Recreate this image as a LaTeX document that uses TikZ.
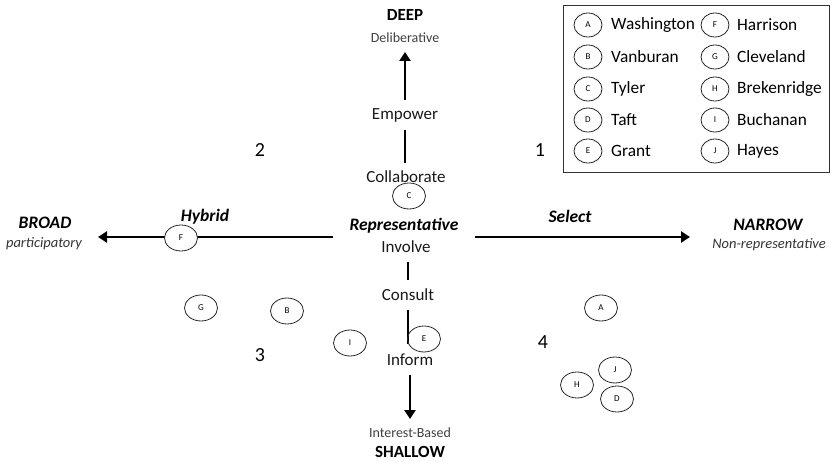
\documentclass[tikz,border=0pt]{standalone}
\usepackage{fontspec}
\setmainfont{Carlito}
\usetikzlibrary{arrows.meta,shapes.geometric}
\begin{document}
\begin{tikzpicture}[x=1pt,y=-1pt,
  lbl/.style={font=\fontsize{17}{19}\selectfont, text=black!90, inner sep=1pt},
  bigb/.style={font=\fontsize{17}{19}\selectfont\bfseries, inner sep=1pt},
  bigbi/.style={font=\fontsize{17.5}{19}\selectfont\bfseries\itshape, inner sep=1pt},
  small/.style={font=\fontsize{14}{16}\selectfont, text=black!75, inner sep=1pt},
  smalli/.style={font=\fontsize{14.5}{16}\selectfont\itshape, text=black!80, inner sep=1pt},
  quad/.style={font=\fontsize{20}{22}\selectfont, inner sep=1pt},
  pt/.style={draw=black!85, line width=0.8pt, ellipse, minimum width=33pt, minimum height=26pt, inner sep=0pt, font=\fontsize{9}{10}\selectfont},
  leg/.style={draw=black!85, line width=0.8pt, ellipse, minimum width=28pt, minimum height=24pt, inner sep=0pt, font=\fontsize{9}{10}\selectfont},
  legtxt/.style={font=\fontsize{17.3}{19}\selectfont, anchor=west, inner sep=0pt},
  axis/.style={line width=2.6pt, black},
  arr/.style={axis, -{Triangle[length=9pt,width=11pt]}}
]
\useasboundingbox (0,0) rectangle (833,462);
% legend box
\node[draw=black!80, line width=1pt, minimum width=266pt, minimum height=167pt, inner sep=0pt] (legend) at (696,89) {};
\foreach \l/\n/\y in {A/Washington/25, B/Vanburan/57, C/Tyler/89, D/Taft/120, E/Grant/151}{
  \node[leg] (leg\l) at (588,\y) {\l};
  \node[legtxt] (legt\l) at (611,\y) {\n};
}
\foreach \l/\n/\y in {F/Harrison/25, G/Cleveland/57, H/Brekenridge/89, I/Buchanan/120, J/Hayes/151}{
  \node[leg] (leg\l) at (715,\y) {\l};
  \node[legtxt] (legt\l) at (737,\y) {\n};
}
% vertical labels
\node[bigb] (deep) at (405,15) {DEEP};
\node[small] (delib) at (405,38) {Deliberative};
\node[lbl] (empower) at (405,115) {Empower};
\node[lbl] (collab) at (406,177) {Collaborate};
\node[bigbi] (repr) at (404,226) {Representative};
\node[lbl] (involve) at (406,247) {Involve};
\node[lbl] (consult) at (408,295) {Consult};
\node[lbl] (inform) at (410,360) {Inform};
\node[small] (interest) at (410,433) {Interest-Based};
\node[bigb] (shallow) at (410,452) {SHALLOW};
% horizontal labels
\node[bigbi] (broad) at (45,223) {BROAD};
\node[smalli] (partic) at (44,244) {participatory};
\node[bigbi] (hybrid) at (205,217) {Hybrid};
\node[bigbi] (select) at (570,216) {Select};
\node[bigbi] (narrow) at (768,225) {NARROW};
\node[smalli] (nonrep) at (769,245) {Non-representative};
% quadrant numbers
\node[quad] (q1) at (540,150) {1};
\node[quad] (q2) at (260,150) {2};
\node[quad] (q3) at (260,355) {3};
\node[quad] (q4) at (543,342) {4};
% axis coordinates
\coordinate (upS) at (405,100);
\coordinate (upT) at (405,52);
\coordinate (v1a) at (405,130);
\coordinate (v1b) at (405,163);
\coordinate (v2a) at (408,262);
\coordinate (v2b) at (408,280);
\coordinate (v3a) at (408,310);
\coordinate (v3b) at (408,344);
\coordinate (dnS) at (410,375);
\coordinate (dnT) at (410,419);
\coordinate (lS) at (333,237);
\coordinate (lT) at (98,237);
\coordinate (rS) at (475,237);
\coordinate (rT) at (690,237);
\draw[arr] (upS) -- (upT);
\draw[axis] (v1a) -- (v1b);
\draw[axis] (v2a) -- (v2b);
\draw[axis] (v3a) -- (v3b);
\draw[arr] (dnS) -- (dnT);
\draw[arr] (lS) -- (lT);
\draw[arr] (rS) -- (rT);
% points
\node[pt, fill=white] (pC) at (409,196) {C};
\node[pt, fill=white] (pF) at (181,238) {F};
\node[pt] (pG) at (201,308) {G};
\node[pt] (pB) at (287,311) {B};
\node[pt] (pI) at (350,343) {I};
\node[pt] (pE) at (424,339) {E};
\node[pt] (pA) at (601,308) {A};
\node[pt] (pJ) at (615,370) {J};
\node[pt] (pH) at (577,385) {H};
\node[pt] (pD) at (617,399) {D};
\end{tikzpicture}
\end{document}
